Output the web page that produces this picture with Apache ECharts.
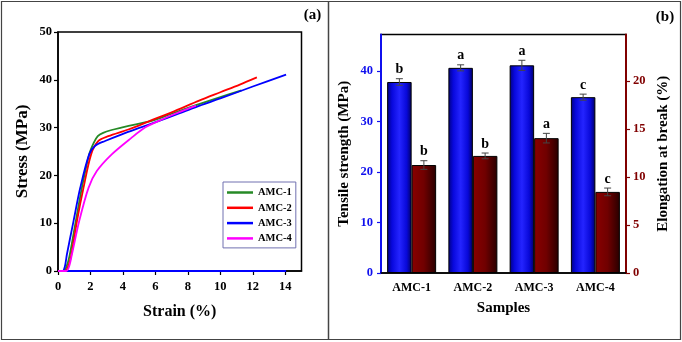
<!DOCTYPE html>
<html>
<head>
<meta charset="utf-8">
<script src="https://cdn.jsdelivr.net/npm/echarts@6/dist/echarts.min.js"></script>
<style>
  html, body { margin: 0; padding: 0; background: #fff; }
  #chart { width: 682px; height: 342px; }
</style>
</head>
<body>
<div id="chart"></div>
<script>
// (a) stress-strain curves
const strain1 = [0, 0.35, 0.5, 0.7, 1.1, 1.47, 1.92, 2.2, 2.45, 2.78, 3.3, 3.9, 4.8, 5.77, 7, 8.5, 10, 11.3]
const stress1 = [0, 0, 0.7, 3, 10.5, 17.4, 24.4, 26.8, 28.2, 28.9, 29.5, 30, 30.7, 31.4, 32.9, 34.7, 36.4, 37.8]
const strain2 = [0, 0.45, 0.6, 0.8, 1.17, 1.57, 2.04, 2.49, 3.1, 4.33, 5.66, 7, 8.73, 10, 11.2, 12.25]
const stress2 = [0, 0, 0.7, 3, 10.5, 17.4, 24.4, 27.2, 28.2, 29.6, 31.4, 33.2, 35.7, 37.4, 39, 40.5]
const strain3 = [0, 0.28, 0.42, 0.55, 0.96, 1.37, 1.92, 2.29, 2.9, 3.93, 5.15, 5.97, 7.5, 8.73, 10, 12, 14.05]
const stress3 = [0, 0, 0.9, 3.5, 10.5, 17.4, 24.4, 26.2, 27.2, 28.6, 30.1, 31.1, 33, 34.6, 36.1, 38.6, 41.1]
const strain4 = [0, 0.5, 0.68, 0.86, 1.31, 1.88, 2.39, 3.31, 4.54, 5.36, 6.2, 7.3, 8.5]
const stress4 = [0, 0, 0.9, 3.5, 10.5, 17.4, 20.9, 24.4, 27.9, 30, 31.4, 33, 34.6]
const curveNames = ['AMC-1', 'AMC-2', 'AMC-3', 'AMC-4']
const strainTicks = [0, 2, 4, 6, 8, 10, 12, 14]

// (b) tensile strength / elongation bars
const samples = ['AMC-1', 'AMC-2', 'AMC-3', 'AMC-4']
const tensile = [37.8, 40.6, 41.1, 34.8]
const tensileErr = [0.65, 0.6, 1.0, 0.6]
const tensileLetters = ['b', 'a', 'a', 'c']
const elongation = [11.25, 12.2, 14.05, 8.45]
const elongationErr = [0.45, 0.3, 0.5, 0.4]
const elongationLetters = ['b', 'b', 'a', 'c']
const tensileTicks = [0, 10, 20, 30, 40]
const elongationTicks = [0, 5, 10, 15, 20]

const zip = (xs, ys) => xs.map((x, i) => [x, ys[i]])

const serif = '"Liberation Serif", "DejaVu Serif", serif'
const BLUE = '#1010ee'
const DARKRED = '#800000'
const BAR_W = 24.5

const chart = echarts.init(document.getElementById('chart'))

// error bar + letter drawn next to each bar
const errorItem = (offset, errs, letters) => (params, api) => {
  const i = api.value(0)
  const v = api.value(1)
  const e = errs[i]
  const top = api.coord([i, v + e])
  const bot = api.coord([i, v - e])
  const x = top[0] + offset
  const lineStyle = { stroke: '#444', lineWidth: 1 }
  return {
    type: 'group',
    children: [
      { type: 'line', shape: { x1: x, y1: top[1], x2: x, y2: bot[1] }, style: lineStyle },
      { type: 'line', shape: { x1: x - 3.5, y1: top[1], x2: x + 3.5, y2: top[1] }, style: lineStyle },
      { type: 'line', shape: { x1: x - 3.5, y1: bot[1], x2: x + 3.5, y2: bot[1] }, style: lineStyle },
      {
        type: 'text',
        x: x,
        y: top[1] - 2,
        style: {
          text: letters[i],
          fill: '#000',
          font: 'bold 14px ' + serif,
          align: 'center',
          verticalAlign: 'bottom'
        }
      }
    ]
  }
}

const blueFill = new echarts.graphic.LinearGradient(0, 0, 1, 0, [
  { offset: 0, color: '#000080' },
  { offset: 0.2, color: '#0808dd' },
  { offset: 0.5, color: '#2424ff' },
  { offset: 0.8, color: '#0808d8' },
  { offset: 1, color: '#000060' }
])
const redFill = new echarts.graphic.LinearGradient(0, 0, 1, 0, [
  { offset: 0, color: '#8a0000' },
  { offset: 0.5, color: '#700000' },
  { offset: 1, color: '#280000' }
])

const lineSeries = (name, xs, ys, color, z) => ({
  name, type: 'line', xAxisIndex: 0, yAxisIndex: 0,
  smooth: 0.3, symbol: 'none',
  color, lineStyle: { width: 1.8 }, data: zip(xs, ys), z
})

const option = {
  backgroundColor: '#fff',
  animation: false,
  textStyle: { fontFamily: serif, fontWeight: 'bold' },
  graphic: [
    { type: 'rect', shape: { x: 1.5, y: 1.5, width: 679, height: 338 }, style: { fill: 'none', stroke: '#444', lineWidth: 1.2 } },
    { type: 'line', shape: { x1: 328.5, y1: 1.5, x2: 328.5, y2: 339.5 }, style: { stroke: '#444', lineWidth: 1.5 } },
    { type: 'text', x: 312.5, y: 15, style: { text: '(a)', font: 'bold 15px ' + serif, fill: '#000', align: 'center', verticalAlign: 'middle' } },
    { type: 'text', x: 665, y: 17, style: { text: '(b)', font: 'bold 15px ' + serif, fill: '#000', align: 'center', verticalAlign: 'middle' } }
  ],
  legend: {
    data: curveNames,
    orient: 'vertical',
    left: 223,
    top: 182,
    padding: [4, 4, 3, 4],
    itemGap: 2.3,
    itemWidth: 26,
    itemHeight: 2.5,
    icon: 'rect',
    borderColor: '#7070b0',
    borderWidth: 1,
    textStyle: { fontFamily: serif, fontWeight: 'bold', fontSize: 10.5, color: '#000', lineHeight: 13 }
  },
  grid: [
    { left: 58, top: 32, width: 243.5, height: 239, show: true, borderColor: '#000', borderWidth: 1.5, backgroundColor: 'transparent' },
    { left: 381, top: 34.5, width: 245, height: 238.5, show: true, borderColor: '#000', borderWidth: 1.5, backgroundColor: 'transparent' }
  ],
  xAxis: [
    {
      gridIndex: 0,
      type: 'value',
      min: 0,
      max: 15,
      name: 'Strain (%)',
      nameLocation: 'middle',
      nameGap: 33,
      nameTextStyle: { fontSize: 16, fontWeight: 'bold', fontFamily: serif, color: '#000' },
      axisLine: { lineStyle: { color: '#000', width: 1.5 } },
      axisTick: { length: 4, lineStyle: { color: '#000', width: 1.2 }, customValues: strainTicks },
      axisLabel: { customValues: strainTicks, margin: 9, fontSize: 12.5, fontWeight: 'bold', fontFamily: serif, color: '#000' },
      splitLine: { show: false }
    },
    {
      gridIndex: 1,
      type: 'category',
      data: samples,
      name: 'Samples',
      nameLocation: 'middle',
      nameGap: 28,
      nameTextStyle: { fontSize: 15, fontWeight: 'bold', fontFamily: serif, color: '#000' },
      axisLine: { lineStyle: { color: '#000', width: 1.5 } },
      axisTick: { show: false },
      axisLabel: { margin: 9, fontSize: 12, fontWeight: 'bold', fontFamily: serif, color: '#000' }
    }
  ],
  yAxis: [
    {
      gridIndex: 0,
      type: 'value',
      min: 0,
      max: 50,
      interval: 10,
      name: 'Stress (MPa)',
      nameLocation: 'middle',
      nameRotate: 90,
      nameGap: 27,
      nameTextStyle: { fontSize: 17, fontWeight: 'bold', fontFamily: serif, color: '#000' },
      axisLine: { show: true, lineStyle: { color: '#000', width: 1.5 } },
      axisTick: { show: true, length: 4, lineStyle: { color: '#000', width: 1.2 } },
      axisLabel: { margin: 6, fontSize: 12.5, fontWeight: 'bold', fontFamily: serif, color: '#000' },
      splitLine: { show: false }
    },
    {
      gridIndex: 1,
      type: 'value',
      min: 0,
      max: 47.2,
      name: 'Tensile strength (MPa)',
      nameLocation: 'middle',
      nameRotate: 90,
      nameGap: 29,
      nameTextStyle: { fontSize: 15, fontWeight: 'bold', fontFamily: serif, color: '#000' },
      axisLine: { show: true, lineStyle: { color: BLUE, width: 2 } },
      axisTick: { show: true, length: 4, customValues: tensileTicks, lineStyle: { color: BLUE, width: 1.2 } },
      axisLabel: { customValues: tensileTicks, margin: 8, fontSize: 12.5, fontWeight: 'bold', fontFamily: serif, color: BLUE },
      splitLine: { show: false }
    },
    {
      gridIndex: 1,
      type: 'value',
      position: 'right',
      min: 0,
      max: 24.85,
      name: 'Elongation at break (%)',
      nameLocation: 'middle',
      nameRotate: 90,
      nameGap: 30,
      nameTextStyle: { fontSize: 15, fontWeight: 'bold', fontFamily: serif, color: '#000' },
      axisLine: { show: true, lineStyle: { color: DARKRED, width: 2 } },
      axisTick: { show: true, length: 4, customValues: elongationTicks, lineStyle: { color: DARKRED, width: 1.2 } },
      axisLabel: { customValues: elongationTicks, margin: 7, fontSize: 12.5, fontWeight: 'bold', fontFamily: serif, color: DARKRED },
      splitLine: { show: false }
    }
  ],
  series: [
    lineSeries('AMC-1', strain1, stress1, '#268a26', 3),
    lineSeries('AMC-2', strain2, stress2, '#ff0000', 4),
    lineSeries('AMC-3', strain3, stress3, '#0000ff', 5),
    lineSeries('AMC-4', strain4, stress4, '#ff00ff', 6),
    {
      // blue baseline along zero stress
      name: 'base', type: 'line', xAxisIndex: 0, yAxisIndex: 0, symbol: 'none',
      color: '#0000ff', lineStyle: { width: 1.8 }, data: [[0, 0], [strain3[strain3.length - 1], 0]], z: 5
    },
    {
      name: 'Tensile strength', type: 'bar', xAxisIndex: 1, yAxisIndex: 1,
      barWidth: BAR_W, barGap: '0%',
      itemStyle: { color: blueFill, borderColor: '#000', borderWidth: 1 },
      data: tensile
    },
    {
      name: 'Elongation', type: 'bar', xAxisIndex: 1, yAxisIndex: 2,
      barWidth: BAR_W, barGap: '0%',
      itemStyle: { color: redFill, borderColor: '#000', borderWidth: 1 },
      data: elongation
    },
    {
      type: 'custom', xAxisIndex: 1, yAxisIndex: 1, z: 10,
      renderItem: errorItem(-BAR_W / 2, tensileErr, tensileLetters),
      data: tensile.map((v, i) => [i, v])
    },
    {
      type: 'custom', xAxisIndex: 1, yAxisIndex: 2, z: 10,
      renderItem: errorItem(BAR_W / 2, elongationErr, elongationLetters),
      data: elongation.map((v, i) => [i, v])
    }
  ]
}

chart.setOption(option)
</script>
</body>
</html>
